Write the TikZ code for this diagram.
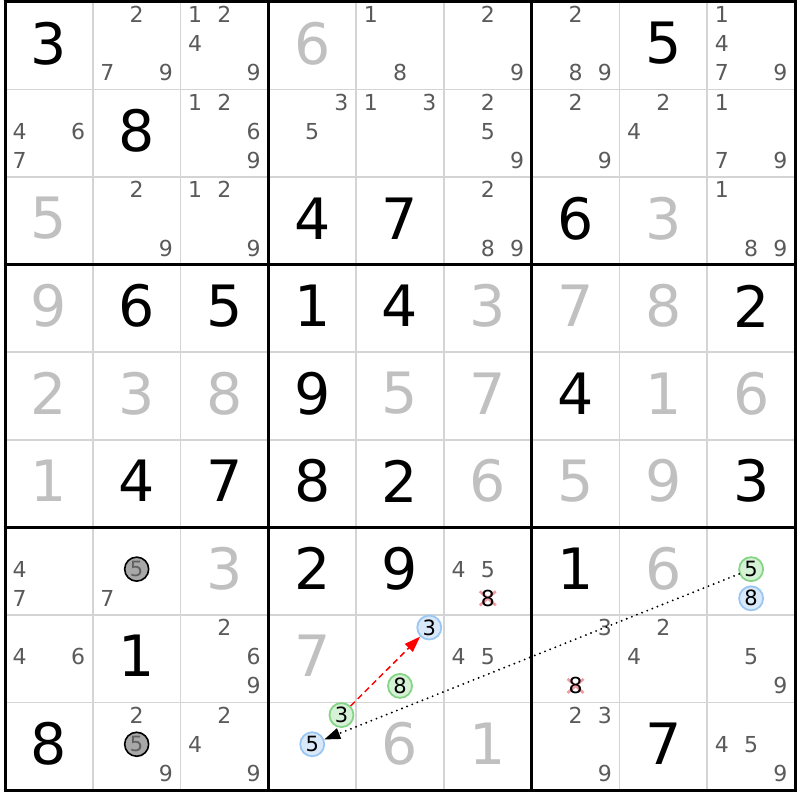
\documentclass[tikz,border=0pt]{standalone}
\usepackage{fontspec}
\setmainfont{DejaVu Sans}
\usetikzlibrary{arrows.meta}
\definecolor{candgray}{HTML}{5A5A5A}
\definecolor{solvedgray}{HTML}{C0C0C0}
\definecolor{thingrid}{HTML}{D4D4D4}
\definecolor{grfill}{HTML}{D6F2D6}
\definecolor{grdraw}{HTML}{86D486}
\definecolor{blfill}{HTML}{DAE9FA}
\definecolor{bldraw}{HTML}{9AC6F2}
\definecolor{gyfill}{HTML}{A8A8A8}
\definecolor{gytext}{HTML}{606060}
\definecolor{crossred}{HTML}{F29AA4}
\newcommand\CW{87.78}
\newcommand\CH{87.56}
\newcommand\candpos[3]{%
  \pgfmathsetmacro\cx{5+(#2-1)*\CW+(1/6+mod(#3-1,3)/3)*\CW}%
  \pgfmathsetmacro\cy{2+(#1-1)*\CH+(1/6+floor((#3-1)/3)/3)*\CH-2}%
}
\newcommand\givenD[3]{%
  \pgfmathsetmacro\cx{5+(#2-0.5)*\CW}%
  \pgfmathsetmacro\cy{2+(#1-0.5)*\CH-2.5}%
  \node[givendig] (v#1#2) at (\cx,\cy) {#3};}
\newcommand\solvedD[3]{%
  \pgfmathsetmacro\cx{5+(#2-0.5)*\CW}%
  \pgfmathsetmacro\cy{2+(#1-0.5)*\CH-2.5}%
  \node[solveddig] (v#1#2) at (\cx,\cy) {#3};}
\newcommand\cands[3]{%
  \foreach \d in {#3} {\candpos{#1}{#2}{\d}\node[cand] (k#1#2\d) at (\cx,\cy) {\d};}}
\newcommand\markc[5]{% row col digit style name
  \candpos{#1}{#2}{#3}\node[#4] (#5) at (\cx,\cy) {#3};}
\newcommand\crossc[3]{%
  \candpos{#1}{#2}{#3}%
  \draw[crossline] (\cx-8,\cy-7) -- (\cx+8,\cy+7);
  \draw[crossline] (\cx-8,\cy+7) -- (\cx+8,\cy-7);
  \node[cand,text=black] (k#1#2#3) at (\cx,\cy) {#3};}
\begin{document}
\begin{tikzpicture}[x=1pt,y=-1pt,
  givendig/.style={inner sep=0pt,font=\fontsize{57}{60}\selectfont,text=black},
  solveddig/.style={inner sep=0pt,font=\fontsize{57}{60}\selectfont,text=solvedgray},
  cand/.style={inner sep=0pt,font=\fontsize{22}{24}\selectfont,text=candgray},
  circ/.style={circle,inner sep=0pt,minimum size=24pt,line width=1.8pt,font=\fontsize{21}{23}\selectfont,text=black},
  greenc/.style={circ,draw=grdraw,fill=grfill},
  bluec/.style={circ,draw=bldraw,fill=blfill},
  grayc/.style={circ,draw=black,fill=gyfill,text=gytext,line width=1.6pt},
  crossline/.style={draw=crossred,line width=2.6pt},
  thinline/.style={draw=thingrid,line width=1.6pt},
  thickline/.style={draw=black,line width=3pt},
  redarrow/.style={draw=red,line width=1.5pt,dash pattern=on 6pt off 4pt,-{Triangle[length=16pt,width=11pt]}},
  blackarrow/.style={draw=black,line width=2.1pt,line cap=round,dash pattern=on 0pt off 5.5pt,-{Triangle[length=16pt,width=11pt]}}]
\useasboundingbox (0,0) rectangle (800,800);
\fill[white] (0,0) rectangle (800,800);
% thin lines
\foreach \i in {1,2,4,5,7,8} {
  \draw[thinline] ({5+\i*\CW},2) -- ({5+\i*\CW},790);
  \draw[thinline] (5,{2+\i*\CH}) -- (795,{2+\i*\CH});
}
% thick lines
\foreach \i in {0,3,6,9} {
  \draw[thickline] ({5+\i*\CW},0.5) -- ({5+\i*\CW},791.5);
  \draw[thickline] (3.5,{2+\i*\CH}) -- (796.5,{2+\i*\CH});
}
% given digits
\givenD{1}{1}{3}\givenD{1}{8}{5}\givenD{2}{2}{8}
\givenD{3}{4}{4}\givenD{3}{5}{7}\givenD{3}{7}{6}
\givenD{4}{2}{6}\givenD{4}{3}{5}\givenD{4}{4}{1}\givenD{4}{5}{4}\givenD{4}{9}{2}
\givenD{5}{4}{9}\givenD{5}{7}{4}
\givenD{6}{2}{4}\givenD{6}{3}{7}\givenD{6}{4}{8}\givenD{6}{5}{2}\givenD{6}{9}{3}
\givenD{7}{4}{2}\givenD{7}{5}{9}\givenD{7}{7}{1}
\givenD{8}{2}{1}\givenD{9}{1}{8}\givenD{9}{8}{7}
% solved digits
\solvedD{1}{4}{6}\solvedD{3}{1}{5}\solvedD{3}{8}{3}
\solvedD{4}{1}{9}\solvedD{4}{6}{3}\solvedD{4}{7}{7}\solvedD{4}{8}{8}
\solvedD{5}{1}{2}\solvedD{5}{2}{3}\solvedD{5}{3}{8}\solvedD{5}{5}{5}\solvedD{5}{6}{7}\solvedD{5}{8}{1}\solvedD{5}{9}{6}
\solvedD{6}{1}{1}\solvedD{6}{6}{6}\solvedD{6}{7}{5}\solvedD{6}{8}{9}
\solvedD{7}{3}{3}\solvedD{7}{8}{6}\solvedD{8}{4}{7}\solvedD{9}{5}{6}\solvedD{9}{6}{1}
% candidates
\cands{1}{2}{2,7,9}\cands{1}{3}{1,2,4,9}\cands{1}{5}{1,8}\cands{1}{6}{2,9}
\cands{1}{7}{2,8,9}\cands{1}{9}{1,4,7,9}
\cands{2}{1}{4,6,7}\cands{2}{3}{1,2,6,9}\cands{2}{4}{3,5}\cands{2}{5}{1,3}
\cands{2}{6}{2,5,9}\cands{2}{7}{2,9}\cands{2}{8}{2,4}\cands{2}{9}{1,7,9}
\cands{3}{2}{2,9}\cands{3}{3}{1,2,9}\cands{3}{6}{2,8,9}\cands{3}{9}{1,8,9}
\cands{7}{1}{4,7}\cands{7}{2}{7}\cands{7}{6}{4,5}
\cands{8}{1}{4,6}\cands{8}{3}{2,6,9}\cands{8}{6}{4,5}\cands{8}{7}{3}
\cands{8}{8}{2,4}\cands{8}{9}{5,9}
\cands{9}{2}{2,9}\cands{9}{3}{2,4,9}\cands{9}{7}{2,3,9}\cands{9}{9}{4,5,9}
% eliminated candidates
\crossc{7}{6}{8}
\crossc{8}{7}{8}
% marked candidates
\markc{7}{2}{5}{grayc}{gA}
\markc{9}{2}{5}{grayc}{gB}
\markc{7}{9}{5}{greenc}{s5}
\markc{7}{9}{8}{bluec}{e8}
\markc{8}{5}{3}{bluec}{e3}
\markc{8}{5}{8}{greenc}{s8}
\markc{9}{4}{3}{greenc}{s3}
\markc{9}{4}{5}{bluec}{e5}
% links
\draw[redarrow] (s3) -- (e3);
\draw[blackarrow] (s5) -- (e5);
\end{tikzpicture}
\end{document}
